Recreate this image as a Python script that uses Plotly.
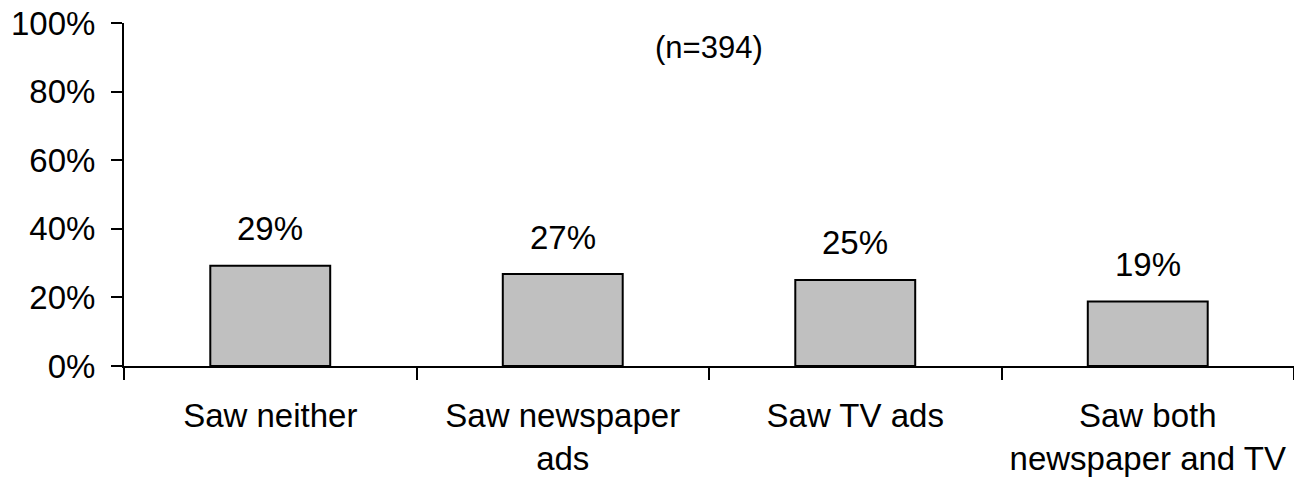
import plotly.graph_objects as go

categories = ["Saw neither", "Saw newspaper<br>ads", "Saw TV ads", "Saw both<br>newspaper and TV"]
shares = [0.292, 0.268, 0.251, 0.188]
share_labels = ["29%", "27%", "25%", "19%"]
y_ticks = [0, 0.2, 0.4, 0.6, 0.8, 1.0]
y_tick_labels = ["0%", "20%", "40%", "60%", "80%", "100%"]
sample_note = "(n=394)"

FONT = "Arial, Liberation Sans, sans-serif"

fig = go.Figure(go.Bar(
    x=categories,
    y=shares,
    marker=dict(color="#c0c0c0", line=dict(color="black", width=2)),
    hoverinfo="skip",
))

# value labels sit well above each bar, as in the original
for cat, val, lab in zip(categories, shares, share_labels):
    fig.add_annotation(x=cat, y=val, text=lab, showarrow=False,
                       yanchor="middle", yshift=37,
                       font=dict(family=FONT, size=33, color="black"))

fig.add_annotation(x=0.5, y=0.93, xref="paper", yref="paper", text=sample_note,
                   showarrow=False, yanchor="middle",
                   font=dict(family=FONT, size=31, color="black"))

fig.update_layout(
    width=1294, height=484,
    margin=dict(l=124, r=0, t=23, b=118),
    paper_bgcolor="white", plot_bgcolor="white",
    bargap=0.59,
    showlegend=False,
    font=dict(family=FONT, size=33, color="black"),
)
fig.update_xaxes(
    automargin=False,
    showline=True, linecolor="black", linewidth=2,
    ticks="outside", tickson="boundaries", ticklen=12, tickwidth=2, tickcolor="black",
    ticklabelstandoff=19,
    showgrid=False, zeroline=False,
    tickfont=dict(family=FONT, size=33, color="black"),
)
fig.update_yaxes(
    automargin=False,
    range=[0, 1], tickvals=y_ticks, ticktext=y_tick_labels,
    showline=True, linecolor="black", linewidth=2,
    ticks="outside", ticklen=11, tickwidth=2, tickcolor="black",
    ticklabelstandoff=9,
    showgrid=False, zeroline=False,
    tickfont=dict(family=FONT, size=33, color="black"),
)

# drop the browser's default body margin so the figure fills the window exactly
fig.write_html("out.html",
               config={"displayModeBar": False},
               post_script="document.body.style.margin='0';document.body.style.overflow='hidden';")
